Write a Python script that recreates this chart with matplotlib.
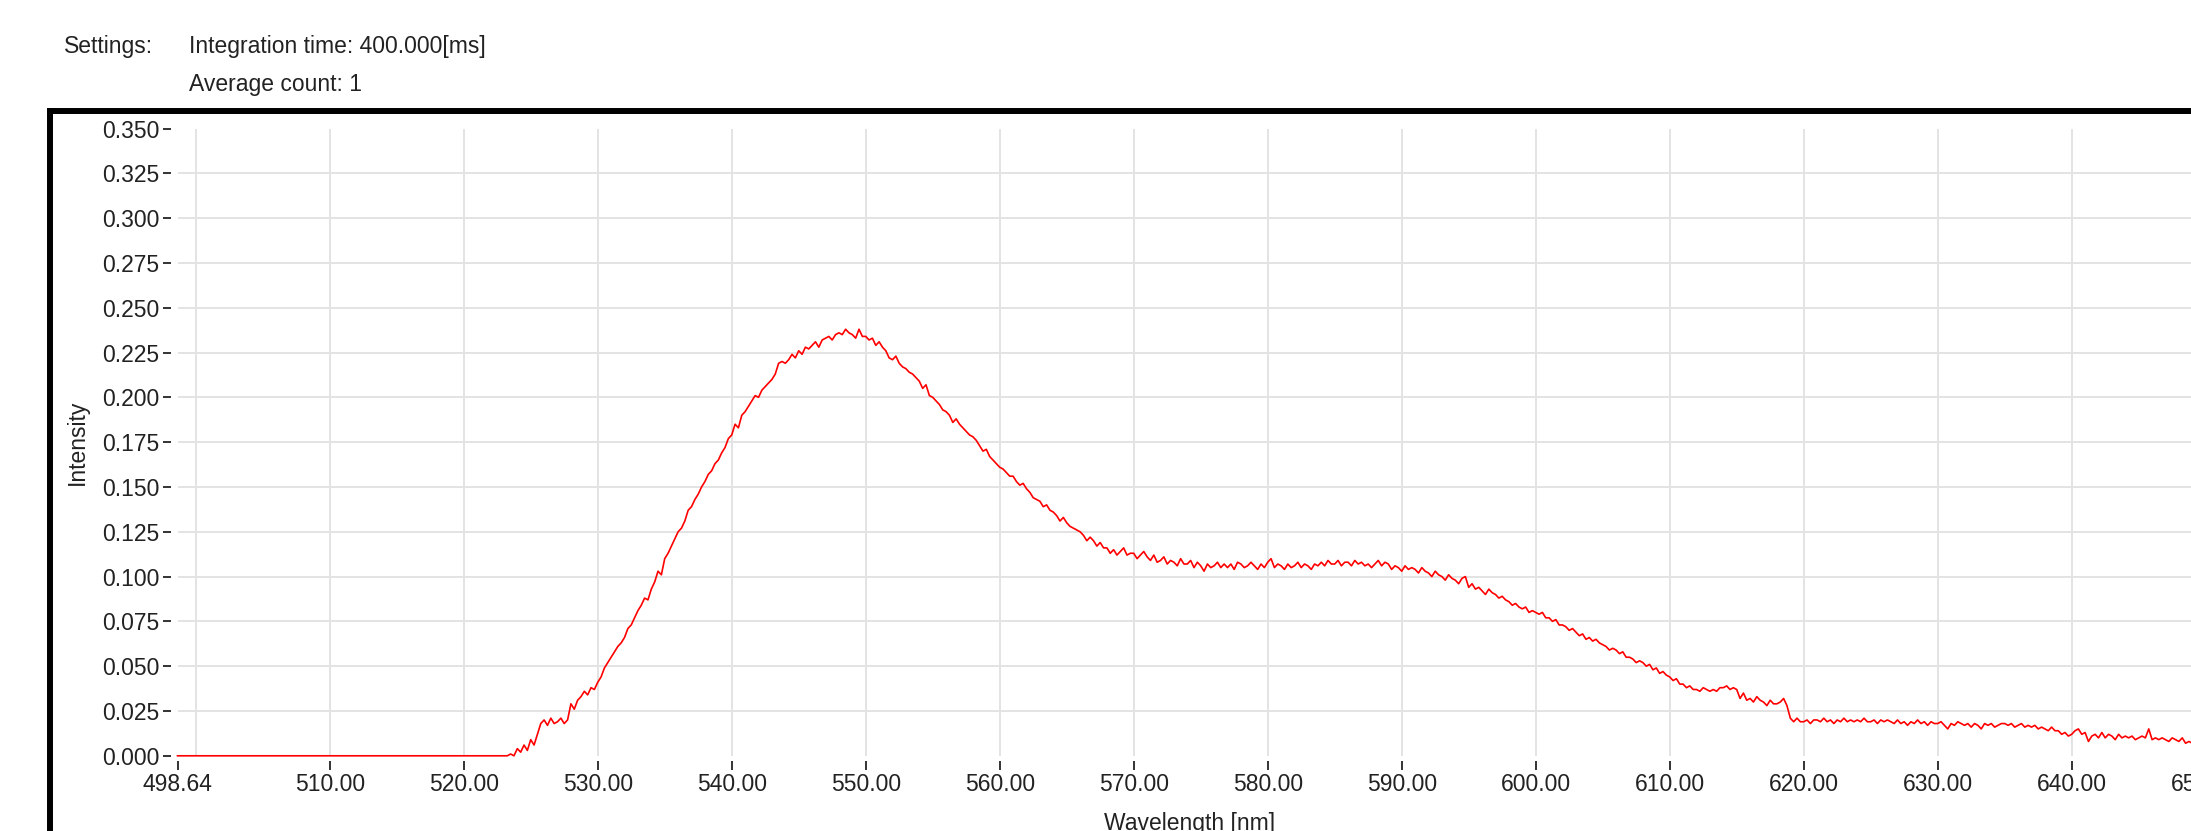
import matplotlib
matplotlib.use('agg')
from matplotlib import pyplot as plt
from matplotlib.lines import Line2D
import numpy

plt.rcParams['font.family'] = ['Liberation Sans', 'DejaVu Sans']

# flat (zero) part of the spectrum, before the detector picks anything up
flat_wl = [498.64, 523.25]
flat_int = [0.0, 0.0]

# measured part, one sample every 0.25 nm from 523.5 nm to 650.0 nm
wl_start = 523.5
wl_step = 0.25
intensity = [
    0.001, 0.000,
    0.004, 0.002, 0.006, 0.003,  0.009, 0.006, 0.012, 0.018,
    0.020, 0.017, 0.021, 0.018,  0.019, 0.021, 0.018, 0.020,
    0.029, 0.026, 0.031, 0.033,  0.036, 0.034, 0.038, 0.037,
    0.041, 0.044, 0.049, 0.052,  0.055, 0.058, 0.061, 0.063,
    0.066, 0.071, 0.073, 0.077,  0.081, 0.084, 0.088, 0.087,
    0.093, 0.097, 0.103, 0.101,  0.110, 0.113, 0.117, 0.121,
    0.125, 0.127, 0.131, 0.137,  0.139, 0.143, 0.146, 0.150,
    0.153, 0.157, 0.159, 0.163,  0.165, 0.169, 0.172, 0.177,
    0.179, 0.185, 0.183, 0.190,  0.192, 0.195, 0.198, 0.201,
    0.200, 0.204, 0.206, 0.208,  0.210, 0.213, 0.219, 0.220,
    0.219, 0.221, 0.224, 0.222,  0.226, 0.224, 0.228, 0.227,
    0.229, 0.231, 0.228, 0.232,  0.233, 0.234, 0.232, 0.235,
    0.236, 0.235, 0.238, 0.236,  0.235, 0.233, 0.238, 0.234,
    0.234, 0.232, 0.233, 0.229,  0.231, 0.228, 0.226, 0.222,
    0.221, 0.223, 0.219, 0.217,  0.216, 0.214, 0.213, 0.211,
    0.209, 0.205, 0.207, 0.201,  0.200, 0.198, 0.196, 0.193,
    0.192, 0.190, 0.186, 0.188,  0.185, 0.183, 0.181, 0.179,
    0.178, 0.176, 0.173, 0.170,  0.171, 0.167, 0.165, 0.163,
    0.161, 0.160, 0.158, 0.156,  0.156, 0.153, 0.151, 0.152,
    0.149, 0.147, 0.144, 0.143,  0.142, 0.139, 0.140, 0.137,
    0.136, 0.134, 0.131, 0.133,  0.130, 0.128, 0.127, 0.126,
    0.125, 0.123, 0.120, 0.122,  0.120, 0.117, 0.119, 0.116,
    0.116, 0.113, 0.115, 0.112,  0.114, 0.116, 0.112, 0.113,
    0.113, 0.110, 0.112, 0.114,  0.111, 0.109, 0.112, 0.108,
    0.109, 0.111, 0.107, 0.109,  0.108, 0.106, 0.110, 0.107,
    0.107, 0.109, 0.105, 0.108,  0.106, 0.103, 0.107, 0.105,
    0.106, 0.108, 0.105, 0.107,  0.105, 0.107, 0.104, 0.108,
    0.107, 0.105, 0.106, 0.108,  0.106, 0.104, 0.107, 0.105,
    0.108, 0.110, 0.105, 0.107,  0.106, 0.104, 0.107, 0.105,
    0.106, 0.108, 0.105, 0.107,  0.106, 0.104, 0.107, 0.106,
    0.108, 0.106, 0.109, 0.107,  0.107, 0.109, 0.106, 0.108,
    0.108, 0.106, 0.109, 0.107,  0.108, 0.106, 0.107, 0.105,
    0.107, 0.109, 0.106, 0.108,  0.107, 0.104, 0.106, 0.105,
    0.103, 0.106, 0.104, 0.105,  0.104, 0.102, 0.105, 0.103,
    0.102, 0.100, 0.103, 0.101,  0.100, 0.098, 0.101, 0.099,
    0.098, 0.096, 0.099, 0.100,  0.094, 0.096, 0.093, 0.094,
    0.092, 0.090, 0.093, 0.091,  0.090, 0.088, 0.089, 0.087,
    0.086, 0.084, 0.085, 0.083,  0.082, 0.083, 0.080, 0.081,
    0.080, 0.079, 0.080, 0.077,  0.077, 0.075, 0.076, 0.073,
    0.073, 0.072, 0.070, 0.071,  0.069, 0.067, 0.068, 0.065,
    0.066, 0.064, 0.065, 0.063,  0.062, 0.061, 0.059, 0.060,
    0.059, 0.057, 0.058, 0.055,  0.055, 0.054, 0.052, 0.053,
    0.052, 0.050, 0.051, 0.048,  0.049, 0.046, 0.047, 0.045,
    0.044, 0.042, 0.043, 0.040,  0.040, 0.038, 0.039, 0.037,
    0.037, 0.036, 0.038, 0.037,  0.036, 0.037, 0.036, 0.038,
    0.038, 0.039, 0.037, 0.038,  0.037, 0.032, 0.035, 0.031,
    0.032, 0.030, 0.033, 0.031,  0.030, 0.028, 0.031, 0.029,
    0.029, 0.030, 0.032, 0.028,  0.021, 0.019, 0.021, 0.019,
    0.019, 0.020, 0.018, 0.020,  0.020, 0.019, 0.021, 0.019,
    0.020, 0.018, 0.020, 0.019,  0.021, 0.019, 0.020, 0.019,
    0.020, 0.019, 0.021, 0.019,  0.019, 0.020, 0.018, 0.020,
    0.019, 0.020, 0.019, 0.018,  0.020, 0.018, 0.019, 0.017,
    0.019, 0.018, 0.020, 0.018,  0.019, 0.017, 0.019, 0.018,
    0.018, 0.019, 0.017, 0.015,  0.018, 0.017, 0.019, 0.018,
    0.017, 0.018, 0.016, 0.018,  0.017, 0.015, 0.018, 0.017,
    0.018, 0.016, 0.017, 0.018,  0.018, 0.017, 0.018, 0.016,
    0.017, 0.018, 0.016, 0.017,  0.016, 0.017, 0.015, 0.016,
    0.015, 0.014, 0.016, 0.014,  0.014, 0.012, 0.013, 0.011,
    0.012, 0.014, 0.015, 0.012,  0.013, 0.008, 0.011, 0.012,
    0.010, 0.013, 0.010, 0.012,  0.011, 0.009, 0.012, 0.010,
    0.011, 0.010, 0.011, 0.009,  0.010, 0.011, 0.010, 0.015,
    0.009, 0.010, 0.009, 0.010,  0.009, 0.008, 0.010, 0.009,
    0.008, 0.010, 0.007, 0.008,  0.007, 0.008, 0.006, 0.007,
    0.007,
]

xticks = [498.64, 510, 520, 530, 540, 550, 560, 570, 580, 590, 600, 610, 620, 630, 640, 650]
yticks = [0.0, 0.025, 0.05, 0.075, 0.1, 0.125, 0.15, 0.175, 0.2, 0.225, 0.25, 0.275, 0.3, 0.325, 0.35]
xgrid = [500, 510, 520, 530, 540, 550, 560, 570, 580, 590, 600, 610, 620, 630, 640, 650]
ygrid = [0.025, 0.05, 0.075, 0.1, 0.125, 0.15, 0.175, 0.2, 0.225, 0.25, 0.275, 0.3, 0.325]

W, H = 2191, 831
fig = plt.figure(figsize=(W / 100.0, H / 100.0), dpi=100)
fig.patch.set_facecolor('white')

def fx(px):
    return px / float(W)

def fy(py):
    # py counted from the top of the picture
    return 1.0 - py / float(H)

# plot area (runs past the right edge of the picture, like the screenshot)
left, right, top, bottom = 177.5, 2205.7, 128.5, 755.8
ax = fig.add_axes([fx(left), fy(bottom), fx(right - left), fy(top) - fy(bottom)])

wl = numpy.concatenate([flat_wl, wl_start + wl_step * numpy.arange(len(intensity))])
vals = numpy.concatenate([flat_int, intensity])

for g in xgrid:
    ax.axvline(g, color='#e3e3e3', lw=1.4, zorder=0)
for g in ygrid:
    ax.axhline(g, color='#e3e3e3', lw=1.4, zorder=0)

ax.plot(wl, vals, color='#ff0000', lw=1.2, zorder=3, clip_on=False)

ax.set_xlim(498.64, 650.0)
ax.set_ylim(0, 0.35)
ax.set_xticks(xticks)
ax.set_xticklabels(['%.2f' % t for t in xticks])
ax.set_yticks(yticks)
ax.set_yticklabels(['%.3f' % t for t in yticks])

for s in ['top', 'right']:
    ax.spines[s].set_visible(False)
ax.spines['left'].set_position(('outward', 5))
ax.spines['bottom'].set_position(('outward', 3.6))
ax.spines['left'].set_visible(False)
ax.spines['bottom'].set_visible(False)

ax.tick_params(axis='y', direction='out', length=5.8, width=1.4, color='#333333',
               pad=2.5, labelsize=16.5, labelcolor='#222222')
ax.tick_params(axis='x', direction='out', length=6.5, width=1.4, color='#333333',
               pad=2.0, labelsize=16.5, labelcolor='#222222')

fig.text(fx(77), fy(442), 'Intensity', rotation=90, ha='center', va='center',
         fontsize=16.5, color='#222222')
fig.text(fx(1190), fy(812), 'Wavelength [nm]', ha='center', va='top',
         fontsize=16.5, color='#222222')

# header text above the chart
fig.text(fx(64), fy(46), 'Settings:', ha='left', va='center', fontsize=16.5, color='#222222')
fig.text(fx(189), fy(46), 'Integration time: 400.000[ms]', ha='left', va='center',
         fontsize=16.5, color='#222222')
fig.text(fx(189), fy(85), 'Average count: 1', ha='left', va='center',
         fontsize=16.5, color='#222222')

# thick black frame around the chart control
fig.add_artist(Line2D([fx(49.5), fx(49.5)], [fy(108), fy(H + 10)], color='black', lw=4.3,
                      solid_capstyle='butt'))
fig.add_artist(Line2D([fx(46.5), fx(W + 10)], [fy(111), fy(111)], color='black', lw=4.3,
                      solid_capstyle='butt'))

fig.savefig('out.png', dpi=100, facecolor='white')
